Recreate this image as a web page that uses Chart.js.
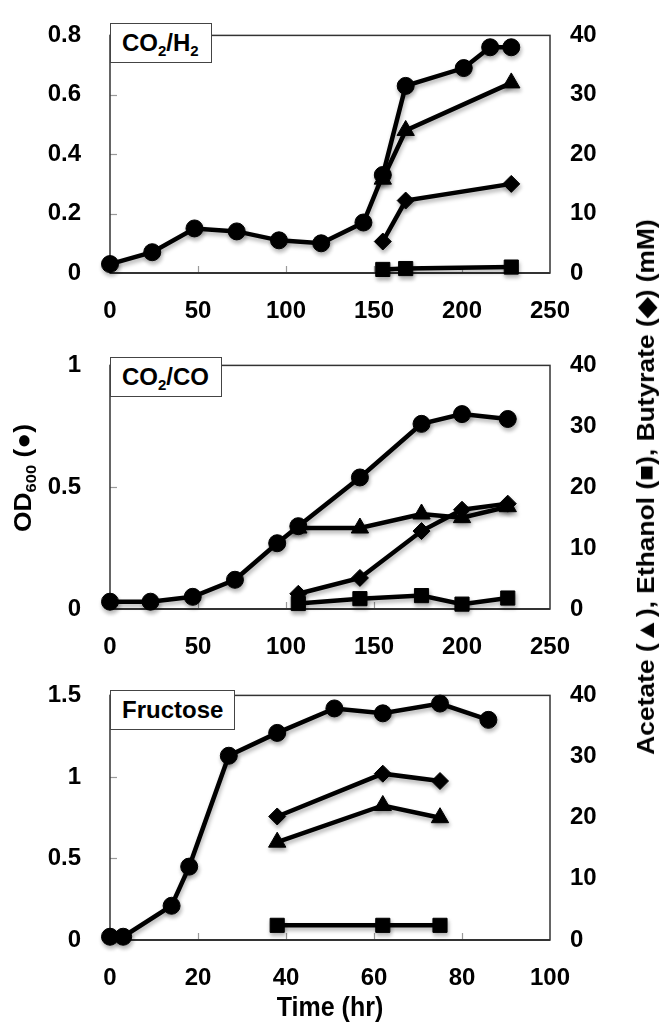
<!DOCTYPE html>
<html>
<head>
<meta charset="utf-8">
<script src="https://cdn.jsdelivr.net/npm/chart.js@4/dist/chart.umd.min.js"></script>
<style>
  body { margin: 0; background: #fff; }
  #wrap { position: relative; width: 666px; height: 1023px; overflow: hidden; font-family: 'Liberation Sans', Arial, sans-serif; font-weight: bold; color: #000; }
  canvas { position: absolute; left: 0; }
  .tag { position: absolute; background: #fff; border: 1px solid #444; box-sizing: border-box; font-size: 24px; line-height: 38px; padding-left: 11px; white-space: nowrap; }
  .tag sub { font-size: 15px; vertical-align: -5px; line-height: 0; }
  .title { position: absolute; white-space: nowrap; font-size: 24px; }
  .title sub { font-size: 15px; vertical-align: -5px; line-height: 0; }
</style>
</head>
<body>
<div id="wrap">
  <canvas id="c1" width="666" height="330" style="top:0"></canvas>
  <canvas id="c2" width="666" height="330" style="top:330px"></canvas>
  <canvas id="c3" width="666" height="363" style="top:660px"></canvas>

  <div class="tag" style="left:110px;top:23px;width:102px;height:40px">CO<sub>2</sub>/H<sub>2</sub></div>
  <div class="tag" style="left:110px;top:357px;width:112px;height:40px">CO<sub>2</sub>/CO</div>
  <div class="tag" style="left:110px;top:690px;width:125px;height:40px">Fructose</div>

  <div class="title" style="left:23px;top:478px;transform:translate(-50%,-50%) rotate(-90deg) scaleX(1.1)">OD<sub>600</sub> (●)</div>
  <div class="title" style="left:646px;top:487px;transform:translate(-50%,-50%) rotate(-90deg) scaleX(1.1)">Acetate (▲), Ethanol (■), Butyrate (◆) (mM)</div>
  <div class="title" style="left:330px;top:1007px;font-size:25px;transform:translate(-50%,-50%) scaleY(1.08)">Time (hr)</div>
</div>

<script>
// CO2/H2 panel
const h2Time = [0, 24, 48, 72, 96, 120, 144, 155, 168, 201, 216, 228];
const h2OD = [0.03, 0.07, 0.15, 0.14, 0.11, 0.10, 0.17, 0.33, 0.63, 0.69, 0.76, 0.76];
const h2ProdTime = [155, 168, 228];
const h2Acetate = [15.8, 24, 32];
const h2Ethanol = [0.6, 0.75, 1.0];
const h2Butyrate = [5.3, 12.2, 15];

// CO2/CO panel
const coTime = [0, 23, 47, 71, 95, 107, 142, 177, 200, 226];
const coOD = [0.03, 0.03, 0.05, 0.12, 0.27, 0.34, 0.54, 0.76, 0.80, 0.78];
const coProdTime = [107, 142, 177, 200, 226];
const coAcetate = [13.3, 13.3, 15.6, 15.0, 16.8];
const coEthanol = [0.9, 1.7, 2.2, 0.8, 1.8];
const coButyrate = [2.5, 5.1, 12.8, 16.3, 17.3];

// Fructose panel
const frTime = [0, 3, 14, 18, 27, 38, 51, 62, 75, 86];
const frOD = [0.02, 0.02, 0.21, 0.45, 1.13, 1.27, 1.42, 1.39, 1.45, 1.35];
const frProdTime = [38, 62, 75];
const frAcetate = [16, 22, 20];
const frEthanol = [2.4, 2.4, 2.4];
const frButyrate = [20.2, 27.2, 26];

const FONT = { family: "'Liberation Sans', Arial, sans-serif", weight: 'bold', size: 24 };

function pts(xs, ys) {
  return xs.map((x, i) => ({ x: x, y: ys[i] }));
}

// plain number labels: 1 not 1.0
const plain = v => String(+Number(v).toFixed(2));

function series(label, data, axis, style, radius) {
  return {
    label: label,
    data: data,
    yAxisID: axis,
    borderColor: '#000',
    backgroundColor: '#000',
    borderWidth: 4.5,
    pointStyle: style,
    pointRadius: radius,
    pointBorderWidth: 1,
    tension: 0,
    clip: false
  };
}

// frame round the plot area plus small inward ticks
const framePlugin = {
  id: 'frame',
  beforeDatasetsDraw(chart) {
    const a = chart.chartArea;
    const ctx = chart.ctx;
    ctx.save();
    ctx.strokeStyle = '#9a9a9a';
    ctx.lineWidth = 1.2;
    const x = chart.scales.x, y = chart.scales.y;
    x.ticks.forEach(t => {
      if (t.value <= x.min || t.value >= x.max) return;
      const px = Math.round(x.getPixelForValue(t.value)) + 0.5;
      ctx.beginPath(); ctx.moveTo(px, a.bottom); ctx.lineTo(px, a.bottom - 7); ctx.stroke();
    });
    y.ticks.forEach(t => {
      if (t.value <= y.min || t.value >= y.max) return;
      const py = Math.round(y.getPixelForValue(t.value)) + 0.5;
      ctx.beginPath(); ctx.moveTo(a.left, py); ctx.lineTo(a.left + 7, py); ctx.stroke();
    });
    ctx.strokeStyle = '#333';
    ctx.lineWidth = 1.5;
    ctx.strokeRect(a.left, a.top, a.right - a.left, a.bottom - a.top);
    ctx.beginPath();
    ctx.lineWidth = 2;
    ctx.moveTo(a.left, a.bottom); ctx.lineTo(a.right, a.bottom);
    ctx.stroke();
    ctx.restore();
    // soft drop shadow like the original
    ctx.save();
    ctx.shadowColor = 'rgba(0,0,0,0.3)';
    ctx.shadowBlur = 4;
    ctx.shadowOffsetX = 1;
    ctx.shadowOffsetY = 3;
  },
  afterDatasetsDraw(chart) {
    chart.ctx.restore();
  }
};

function makePanel(id, p) {
  const ctx = document.getElementById(id);
  return new Chart(ctx, {
    type: 'line',
    data: {
      datasets: [
        series('Ethanol', pts(p.prodTime, p.ethanol), 'y1', 'rect', 10),
        series('Butyrate', pts(p.prodTime, p.butyrate), 'y1', 'rectRot', 8.5),
        series('Acetate', pts(p.prodTime, p.acetate), 'y1', 'triangle', 10),
        series('OD600', pts(p.time, p.od), 'y', 'circle', 8.5)
      ]
    },
    options: {
      responsive: false,
      animation: false,
      layout: { padding: { top: p.top, left: 0, right: 0, bottom: 0 } },
      plugins: { legend: { display: false }, tooltip: { enabled: false } },
      scales: {
        x: {
          type: 'linear', min: 0, max: p.xMax,
          ticks: { stepSize: p.xStep, color: '#000', font: FONT, padding: 16, maxRotation: 0, callback: plain },
          grid: { display: false }, border: { display: false },
          afterFit: s => { s.height = p.xh; }
        },
        y: {
          position: 'left', min: 0, max: p.yMax,
          ticks: { stepSize: p.yStep, color: '#000', font: FONT, padding: 21, callback: plain },
          grid: { display: false }, border: { display: false },
          afterFit: s => { s.width = 110; }
        },
        y1: {
          position: 'right', min: 0, max: 40,
          ticks: { stepSize: 10, color: '#000', font: FONT, padding: 12, callback: plain },
          grid: { display: false }, border: { display: false },
          afterFit: s => { s.width = 116; }
        }
      }
    },
    plugins: [framePlugin]
  });
}

makePanel('c1', { time: h2Time, od: h2OD, prodTime: h2ProdTime, acetate: h2Acetate, ethanol: h2Ethanol, butyrate: h2Butyrate,
  xMax: 250, xStep: 50, yMax: 0.8, yStep: 0.2, top: 23, xh: 57 });
makePanel('c2', { time: coTime, od: coOD, prodTime: coProdTime, acetate: coAcetate, ethanol: coEthanol, butyrate: coButyrate,
  xMax: 250, xStep: 50, yMax: 1, yStep: 0.5, top: 27, xh: 51 });
makePanel('c3', { time: frTime, od: frOD, prodTime: frProdTime, acetate: frAcetate, ethanol: frEthanol, butyrate: frButyrate,
  xMax: 100, xStep: 20, yMax: 1.5, yStep: 0.5, top: 30, xh: 83 });
</script>
</body>
</html>
